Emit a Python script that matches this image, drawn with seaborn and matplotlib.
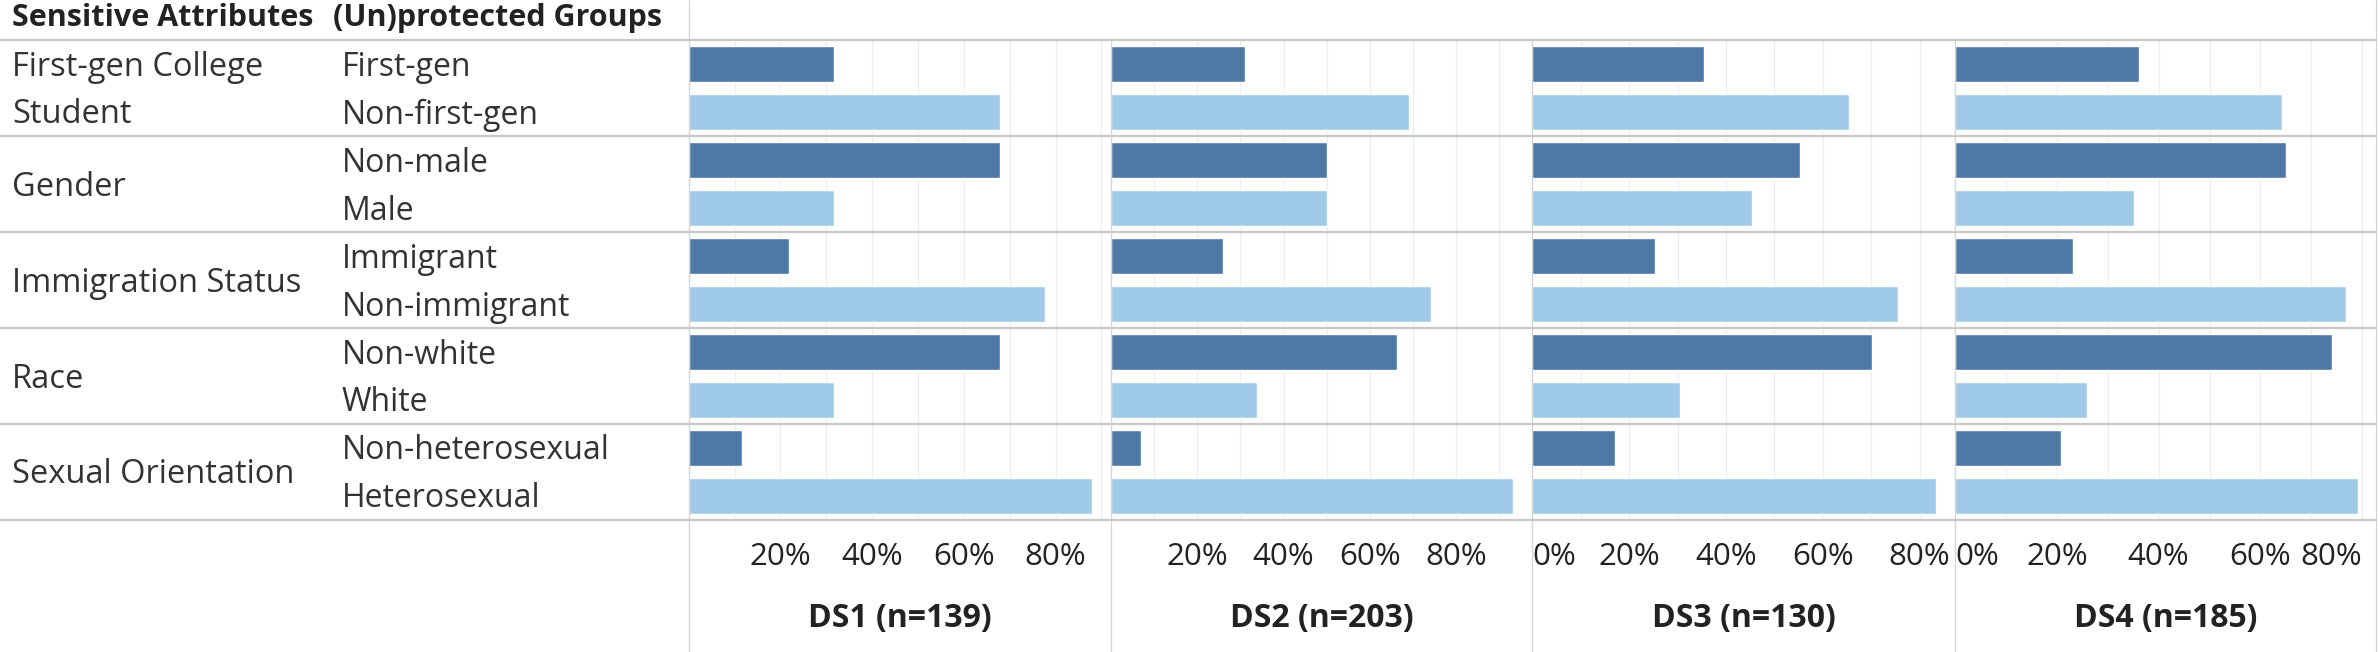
import matplotlib
matplotlib.use('Agg')
import matplotlib.pyplot as plt
import matplotlib.transforms as mtransforms
import pandas as pd
import seaborn as sns

# data (percent of each dataset)
attributes = ['First-gen College\nStudent', 'Gender', 'Immigration Status', 'Race', 'Sexual Orientation']
groups = ['First-gen', 'Non-first-gen', 'Non-male', 'Male', 'Immigrant', 'Non-immigrant',
          'Non-white', 'White', 'Non-heterosexual', 'Heterosexual']
roles = ['Protected', 'Unprotected'] * 5
datasets = ['DS1 (n=139)', 'DS2 (n=203)', 'DS3 (n=130)', 'DS4 (n=185)']
ds1 = [31.7, 67.8, 67.8, 31.7, 21.8, 77.7, 67.8, 31.7, 11.6, 87.9]
ds2 = [31.0, 69.0, 50.1, 50.1, 26.0, 74.3, 66.2, 33.8, 6.9, 93.1]
ds3 = [35.4, 65.3, 55.2, 45.3, 25.3, 75.6, 70.2, 30.5, 17.0, 83.4]
ds4 = [36.2, 64.3, 65.0, 35.1, 23.2, 76.9, 74.1, 26.0, 20.9, 79.2]
tick_labels = [[20, 40, 60, 80], [20, 40, 60, 80], [0, 20, 40, 60, 80], [0, 20, 40, 60, 80]]

sns.set_style('white')
plt.rcParams['font.family'] = ['Open Sans', 'DejaVu Sans']
plt.rcParams['text.color'] = '#333333'

values = [ds1, ds2, ds3, ds4]
df = pd.concat([pd.DataFrame({'dataset': name, 'group': groups, 'role': roles, 'pct': vals})
                for name, vals in zip(datasets, values)], ignore_index=True)

palette = {'Protected': '#4e79a7', 'Unprotected': '#a0cbe8'}
sep_color = '#c8c8c8'
div_color = '#d3d3d3'
grid_color = '#ececec'

W, H = 2378, 652
fig = plt.figure(figsize=(W / 100, H / 100), dpi=100)

top_px, bottom_px = 40, 519.5
edges_px = [688.7, 1111, 1532.4, 1955, 2376]
x_limits = [92.1, 97.7, 87.3, 82.7]
ax_h = (bottom_px - top_px) / H
ax_b = 1 - bottom_px / H
n_rows = len(groups)
text_nudge = 0.07  # rows; labels sit a little below the bar centres

# left label area
lab = fig.add_axes([0, ax_b, edges_px[0] / W, ax_h])
lab.set_ylim(n_rows - 0.5, -0.5)
lab.set_xlim(0, 1)
lab.set_xticks([])
lab.set_yticks([])
for side in ['left', 'right']:
    lab.spines[side].set_visible(False)
for side in ['top', 'bottom']:
    lab.spines[side].set_color(sep_color)
    lab.spines[side].set_linewidth(1.6)
trans = mtransforms.blended_transform_factory(lab.transAxes, lab.transData)
for i, attr in enumerate(attributes):
    lab.text(12 / edges_px[0], 2 * i + 0.5 + text_nudge, attr, transform=trans, va='center', ha='left',
             fontsize=23.5, linespacing=1.55)
for i, grp in enumerate(groups):
    lab.text(342 / edges_px[0], i + text_nudge, grp, transform=trans, va='center', ha='left', fontsize=23)
for y in [1.5, 3.5, 5.5, 7.5]:
    lab.axhline(y, color=sep_color, lw=1.6)
head_y = 1 + 22 / (bottom_px - top_px)
lab.text(12 / edges_px[0], head_y, 'Sensitive Attributes', transform=lab.transAxes,
         va='center', ha='left', fontsize=22, fontweight='bold', color='#222222')
lab.text(333 / edges_px[0], head_y, '(Un)protected Groups', transform=lab.transAxes,
         va='center', ha='left', fontsize=22, fontweight='bold', color='#222222')

foot = (H - bottom_px) / (bottom_px - top_px)
head = top_px / (bottom_px - top_px)

for k, name in enumerate(datasets):
    x0, x1 = edges_px[k], edges_px[k + 1]
    ax = fig.add_axes([x0 / W, ax_b, (x1 - x0) / W, ax_h])
    sub = df[df['dataset'] == name]
    sns.barplot(data=sub, x='pct', y='group', hue='role', order=groups, palette=palette,
                dodge=False, width=0.75, saturation=1, orient='h', legend=False, ax=ax, zorder=2)
    ax.set_xlim(0, x_limits[k])
    ax.set_ylim(n_rows - 0.5, -0.5)
    ax.set_ylabel('')
    ax.set_xlabel('')
    ax.tick_params(left=False, labelleft=False)

    ticks = list(range(0, int(x_limits[k]) + 1, 10))
    ax.set_xticks(ticks)
    ax.set_xticklabels([f'{t}%' if t in tick_labels[k] else '' for t in ticks], fontsize=22.5, color='#222222')
    ax.tick_params(axis='x', length=6, color='#e4e4e4', width=1, pad=10.5)
    ax.grid(axis='x', color=grid_color, lw=0.8, zorder=0)
    ax.set_axisbelow(True)
    for lbl, t in zip(ax.get_xticklabels(), ticks):
        if t == 0:
            lbl.set_ha('left')
        if k == 3 and t == 80:
            lbl.set_ha('right')

    for side in ['top', 'bottom']:
        ax.spines[side].set_color(sep_color)
        ax.spines[side].set_linewidth(1.6)
    ax.spines['left'].set_visible(False)
    ax.spines['right'].set_visible(False)
    for y in [1.5, 3.5, 5.5, 7.5]:
        ax.axhline(y, color=sep_color, lw=1.6, zorder=1)

    # panel dividers running through the footer (and header at the outer edges)
    ax.axvline(0, ymin=-foot, ymax=1 + head if k == 0 else 1, color=div_color, lw=0.9, clip_on=False)
    if k == 3:
        ax.axvline(x_limits[k], ymin=-foot, ymax=1 + head, color=div_color, lw=0.9, clip_on=False)

    ax.text(0.5, -(619 - bottom_px) / (bottom_px - top_px), name, transform=ax.transAxes,
            ha='center', va='center', fontsize=23, fontweight='bold', color='#222222')

fig.savefig('out.png', dpi=100)
